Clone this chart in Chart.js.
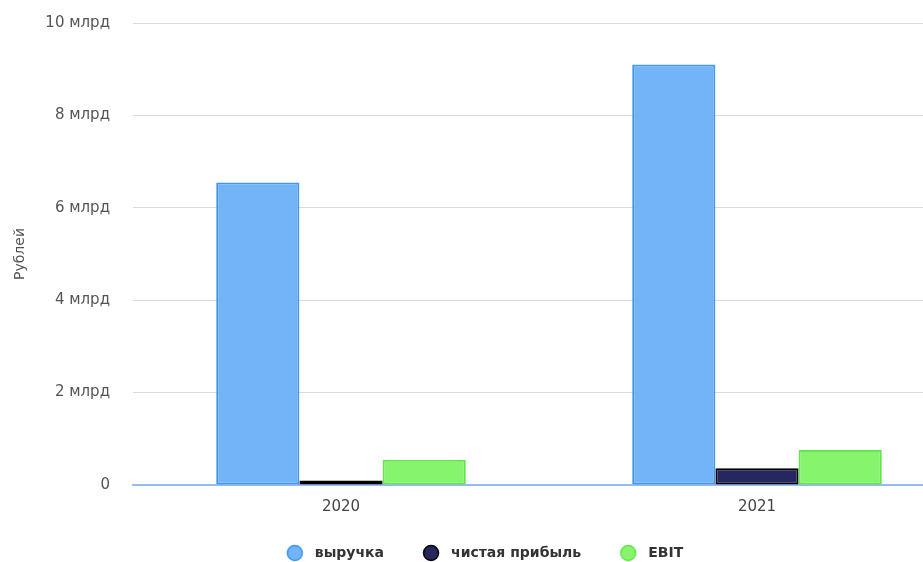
<!DOCTYPE html>
<html lang="ru">
<head>
    <meta charset="UTF-8">
    <title>Рублей</title>
    <script src="https://cdn.jsdelivr.net/npm/chart.js"></script>
    <style>
        html, body { margin: 0; padding: 0; background: #fff; overflow: hidden; }
        #wrap { position: absolute; left: 0; top: 0; width: 968px; height: 570px; }
    </style>
</head>
<body>
    <div id="wrap"><canvas id="finChart"></canvas></div>

    <script>
        // данные (млрд рублей)
        const categories = ['2020', '2021'];
        const revenue = [6.55, 9.1];
        const netProfit = [0.1, 0.36];
        const ebit = [0.545, 0.76];
        const yMax = 10;
        const yStep = 2;

        const FONT = '"DejaVu Sans", sans-serif';
        const ZERO_LINE = '#98baef';

        // кружки для легенды
        function makeDot(fill, stroke) {
            const c = document.createElement('canvas');
            c.width = 26;
            c.height = 18;
            const g = c.getContext('2d');
            g.beginPath();
            g.arc(13, 9, 7.5, 0, Math.PI * 2);
            g.fillStyle = fill;
            g.fill();
            g.lineWidth = 1.5;
            g.strokeStyle = stroke;
            g.stroke();
            return c;
        }

        const series = [
            { label: 'выручка', data: revenue, bg: '#72b4f7', border: '#3f97ef' },
            { label: 'чистая прибыль', data: netProfit, bg: '#25275e', border: '#000000' },
            { label: 'EBIT', data: ebit, bg: '#87f46d', border: '#62e64a' }
        ];

        new Chart(document.getElementById('finChart'), {
            type: 'bar',
            data: {
                labels: categories,
                datasets: series.map(s => ({
                    label: s.label,
                    data: s.data,
                    backgroundColor: s.bg,
                    borderColor: s.border,
                    borderWidth: 2,
                    borderSkipped: false,
                    pointStyle: makeDot(s.bg, s.border),
                    categoryPercentage: 0.6,
                    barPercentage: 1
                }))
            },
            options: {
                responsive: true,
                maintainAspectRatio: false,
                animation: false,
                layout: { padding: { left: 0, right: 3, top: 23, bottom: 0 } },
                plugins: {
                    tooltip: { enabled: false },
                    legend: {
                        position: 'bottom',
                        labels: {
                            usePointStyle: true,
                            pointStyleWidth: 26,
                            padding: 34,
                            color: '#333333',
                            font: { family: FONT, size: 14, weight: 'bold' }
                        }
                    }
                },
                scales: {
                    x: {
                        afterFit: scale => {
                            scale.height = 27;
                            scale.paddingLeft = 0;
                            scale.paddingRight = 0;
                        },
                        grid: { display: false, drawTicks: false },
                        border: { display: true, color: ZERO_LINE, width: 1.5 },
                        ticks: {
                            padding: 13,
                            color: '#444444',
                            font: { family: FONT, size: 15 }
                        }
                    },
                    y: {
                        min: 0,
                        max: yMax,
                        afterFit: scale => {
                            scale.width = 133;
                            scale.paddingTop = 0;
                            scale.paddingBottom = 0;
                        },
                        border: { display: false },
                        grid: {
                            drawTicks: false,
                            color: ctx => ctx.tick && ctx.tick.value === 0 ? ZERO_LINE : '#dcdcdc'
                        },
                        ticks: {
                            stepSize: yStep,
                            padding: 23,
                            color: '#555555',
                            font: { family: FONT, size: 15 },
                            callback: v => v === 0 ? '0' : v + ' млрд'
                        },
                        title: {
                            display: true,
                            text: 'Рублей',
                            color: '#555555',
                            padding: { top: 12, bottom: 0 },
                            font: { family: FONT, size: 14 }
                        }
                    }
                }
            }
        });
    </script>
</body>
</html>
